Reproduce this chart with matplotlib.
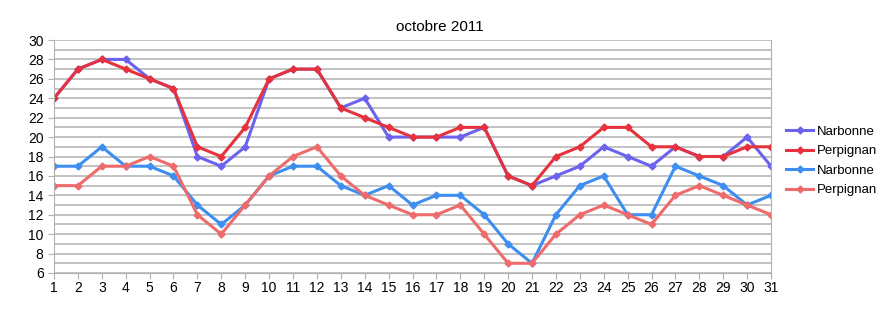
import numpy as np
import matplotlib.pyplot as plt
from matplotlib.ticker import MultipleLocator

plt.rcParams['font.family'] = ['Liberation Sans', 'DejaVu Sans']

days = np.arange(1, 32)
narbonne_max = [24, 27, 28, 28, 26, 25, 18, 17, 19, 26, 27, 27, 23, 24, 20, 20,
                20, 20, 21, 16, 15, 16, 17, 19, 18, 17, 19, 18, 18, 20, 17]
perpignan_max = [24, 27, 28, 27, 26, 25, 19, 18, 21, 26, 27, 27, 23, 22, 21, 20,
                 20, 21, 21, 16, 15, 18, 19, 21, 21, 19, 19, 18, 18, 19, 19]
narbonne_min = [17, 17, 19, 17, 17, 16, 13, 11, 13, 16, 17, 17, 15, 14, 15, 13,
                14, 14, 12, 9, 7, 12, 15, 16, 12, 12, 17, 16, 15, 13, 14]
perpignan_min = [15, 15, 17, 17, 18, 17, 12, 10, 13, 16, 18, 19, 16, 14, 13, 12,
                 12, 13, 10, 7, 7, 10, 12, 13, 12, 11, 14, 15, 14, 13, 12]

series = [
    ("Narbonne", narbonne_max, "#6b63ee"),
    ("Perpignan", perpignan_max, "#e5323c"),
    ("Narbonne", narbonne_min, "#3d8ef0"),
    ("Perpignan", perpignan_min, "#ef6b6b"),
]

fig = plt.figure(figsize=(8.89, 3.24), dpi=100)
ax = fig.add_axes([54 / 889, 51 / 324, (771 - 54) / 889, (273 - 40) / 324])

for name, vals, col in series:
    ax.plot(days, vals, color=col, lw=2.2, marker='D', ms=3.5, label=name)

ax.set_xlim(1, 31)
ax.set_ylim(6, 30)
ax.set_xticks(days)
ax.yaxis.set_major_locator(MultipleLocator(2))
ax.yaxis.set_minor_locator(MultipleLocator(1))
ax.grid(True, which='both', axis='y', color='#c2c2c2', lw=1.4)
ax.set_axisbelow(True)
for s in ['left', 'bottom', 'right']:
    ax.spines[s].set_color('#b0b0b0')
ax.spines['top'].set_visible(False)
ax.tick_params(axis='both', which='major', labelsize=10, color='#b0b0b0', length=4)
ax.tick_params(axis='y', which='minor', length=0)
ax.tick_params(axis='x', pad=2)

fig.text(440 / 889, 1 - 27 / 324, "octobre 2011", ha='center', va='center', fontsize=11)

ax.legend(loc='center left', bbox_to_anchor=(786 / 889, 1 - 161 / 324),
          bbox_transform=fig.transFigure, frameon=False, fontsize=9.5,
          borderpad=0, borderaxespad=0, handlelength=2.05,
          labelspacing=0.55, handletextpad=0.3)

plt.savefig('out.png', dpi=100)
